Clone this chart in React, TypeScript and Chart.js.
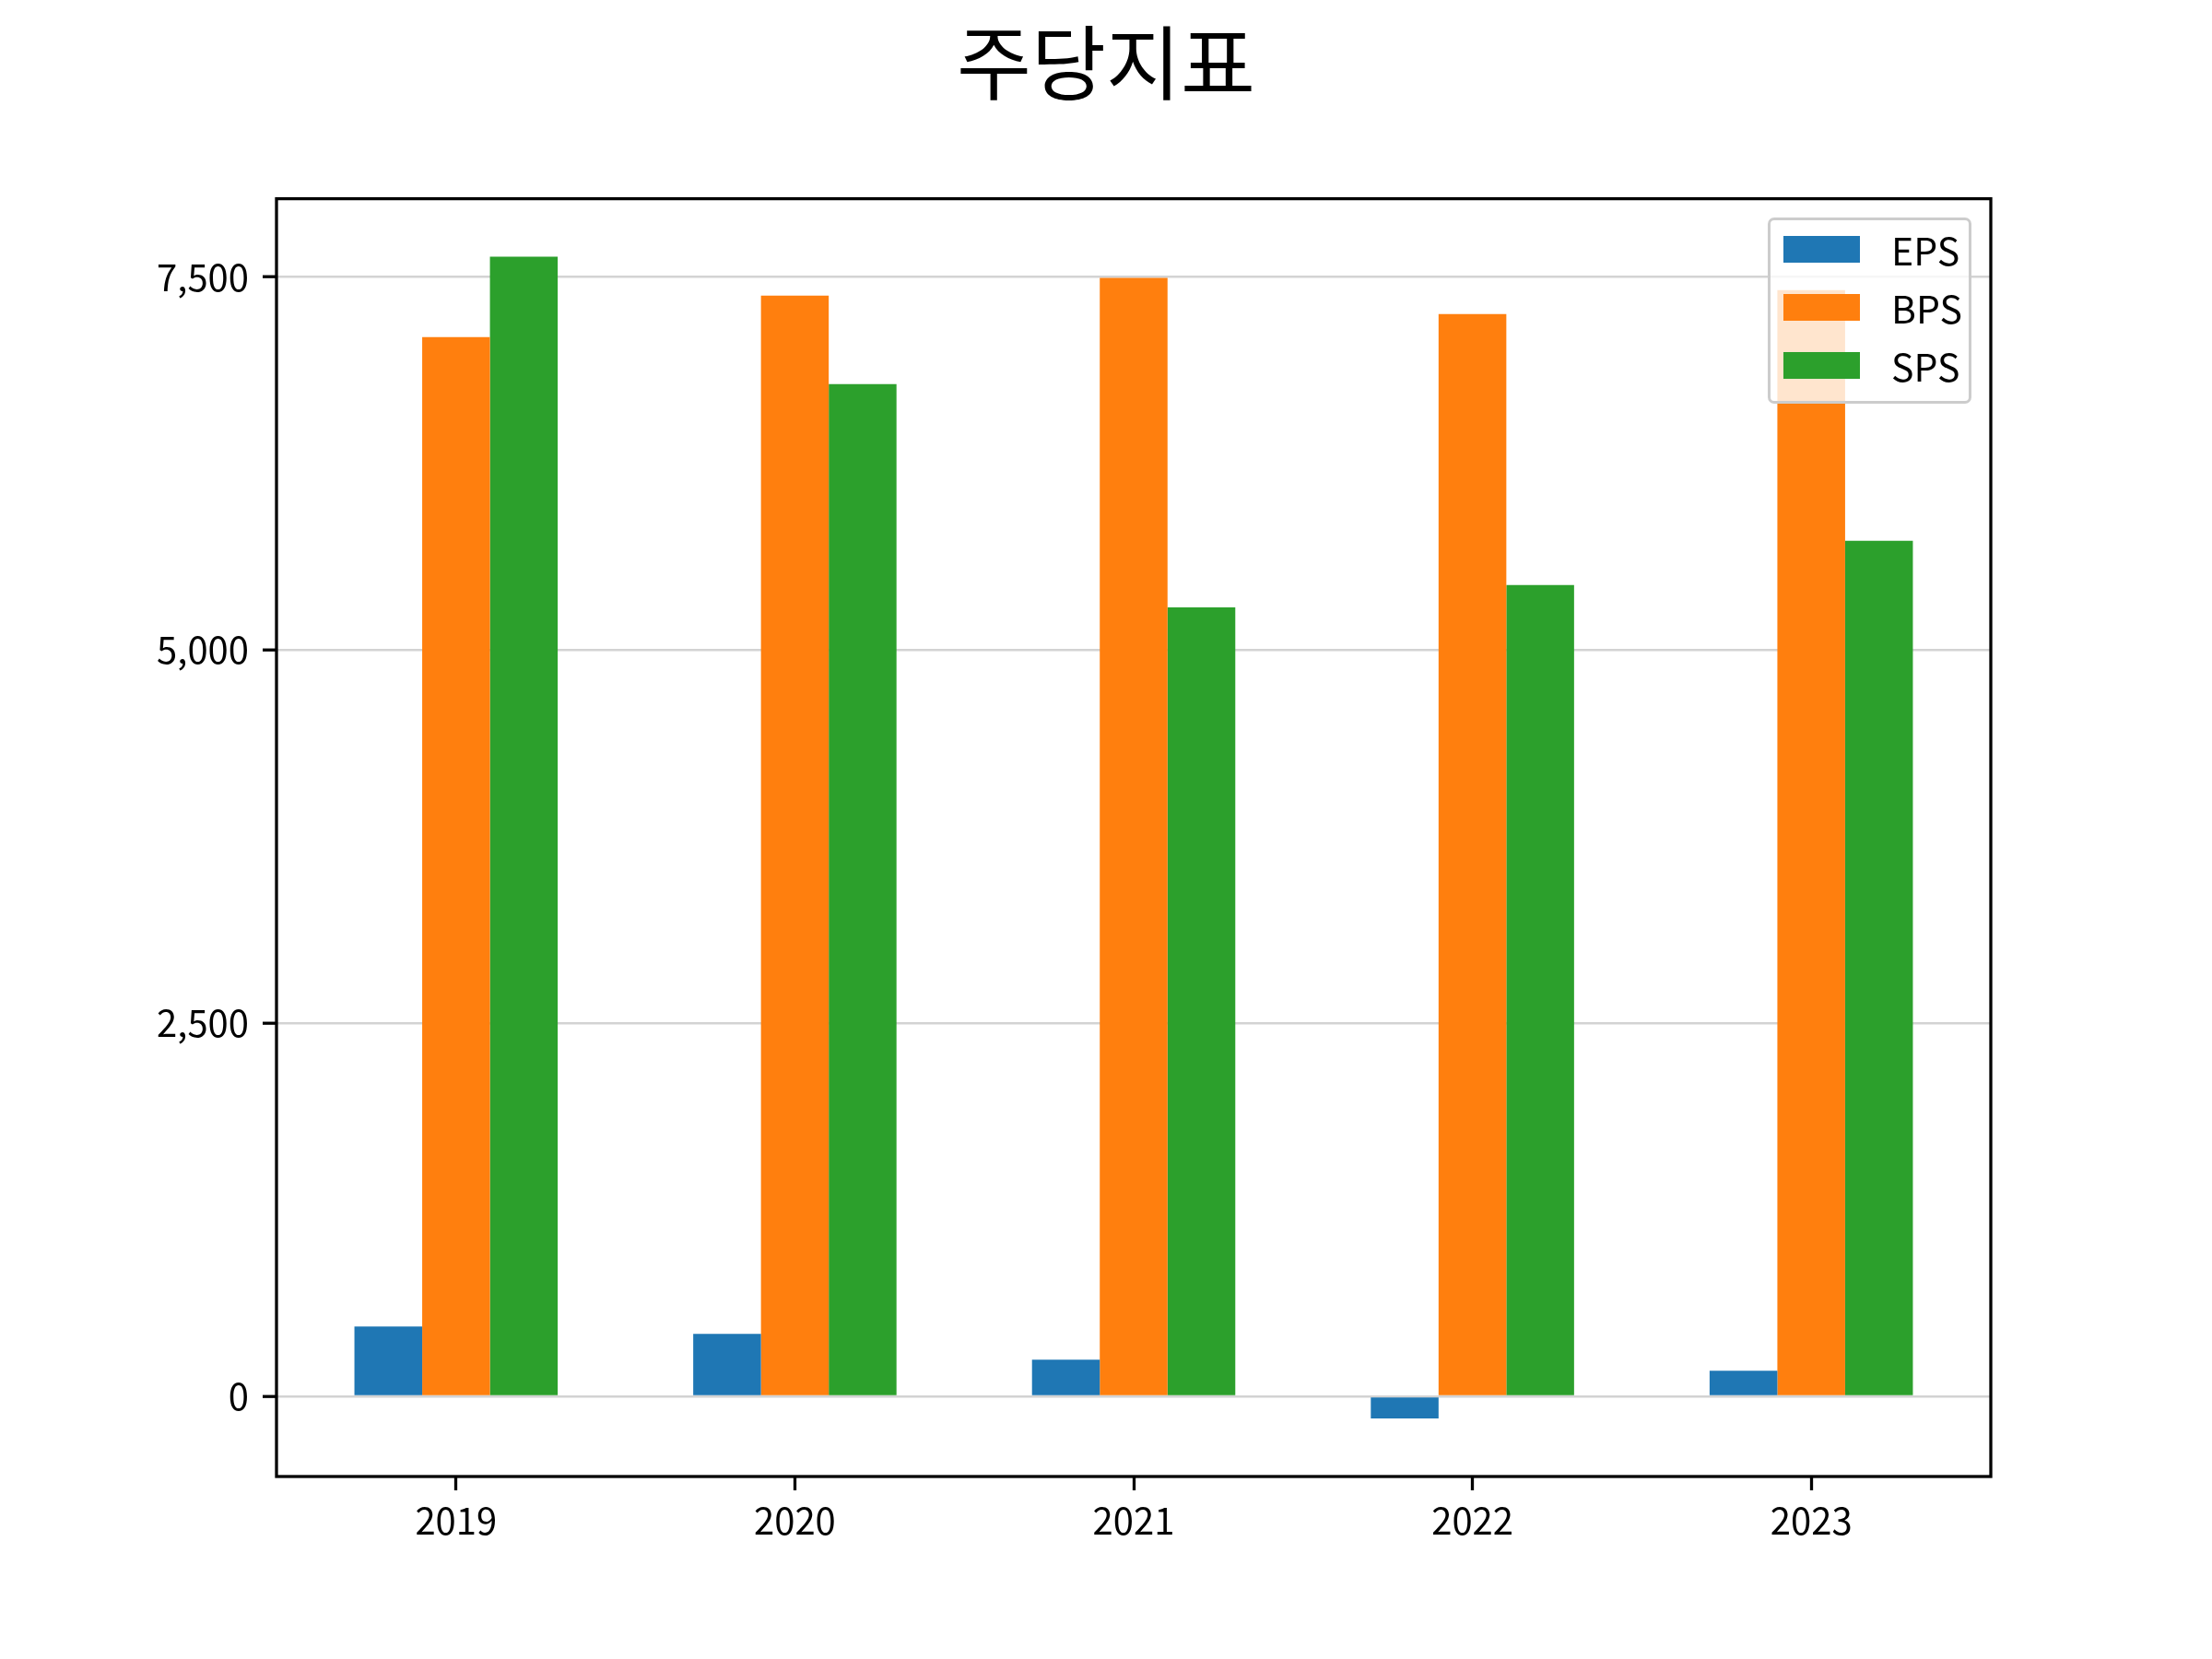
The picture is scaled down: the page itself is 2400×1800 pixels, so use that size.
import { useEffect, useRef } from 'react';
import { Chart, registerables } from 'chart.js';

Chart.register(...registerables);

const years = ['2019', '2020', '2021', '2022', '2023'];
const eps = [468, 418, 245, -148, 171];
const bps = [7096, 7374, 7492, 7251, 7411];
const sps = [7634, 6781, 5286, 5435, 5731];
const seriesNames = ['EPS', 'BPS', 'SPS'];
const seriesColors = ['#1f77b4', '#ff7f0e', '#2ca02c'];
const yTicks = [0, 2500, 5000, 7500];

const FONT = '"Noto Sans CJK KR", "Noto Sans", sans-serif';

// axis limits like matplotlib's 5% auto margins
const allValues = [...eps, ...bps, ...sps];
const lo = Math.min(...allValues);
const hi = Math.max(...allValues);
const ySpan = hi - lo;
const yMin = lo - 0.05 * ySpan;
const yMax = hi + 0.05 * ySpan;
const barW = 0.2;
const xLo = -1.5 * barW;
const xHi = years.length - 1 + 1.5 * barW;
const xMin = xLo - 0.05 * (xHi - xLo);
const xMax = xHi + 0.05 * (xHi - xLo);

const framePlugin = {
	id: 'frame',
	afterDraw(chart: Chart) {
		const { ctx, chartArea: a } = chart;
		ctx.save();
		ctx.strokeStyle = '#000';
		ctx.lineWidth = 3.3;
		ctx.strokeRect(a.left, a.top, a.right - a.left, a.bottom - a.top);
		ctx.restore();
	},
};

function Legend() {
	const rows = [eps, bps, sps].map((_, i) => (
		<div
			key={seriesNames[i]}
			style={{ position: 'absolute', left: 14, top: 17 + i * 63, height: 29, display: 'flex', alignItems: 'center' }}
		>
			<div style={{ width: 83, height: 29, background: seriesColors[i] }} />
			<span style={{ marginLeft: 34, fontSize: 41, lineHeight: '29px', color: '#000' }}>{seriesNames[i]}</span>
		</div>
	));
	return (
		<div
			style={{
				position: 'absolute',
				left: 1918,
				top: 236,
				width: 221,
				height: 202,
				boxSizing: 'border-box',
				border: '3.3px solid #cccccc',
				borderRadius: 7,
				background: 'rgba(255,255,255,0.8)',
				fontFamily: FONT,
			}}
		>
			{rows}
		</div>
	);
}

function App() {
	const chartRef = useRef<HTMLCanvasElement | null>(null);

	useEffect(() => {
		document.body.style.margin = '0';
		if (!chartRef.current) return;

		const existing = Chart.getChart(chartRef.current);
		if (existing) existing.destroy();

		const chart = new Chart(chartRef.current, {
			type: 'bar',
			data: {
				datasets: [eps, bps, sps].map((values, i) => ({
					label: seriesNames[i],
					data: values.map((v, j) => ({ x: j, y: v })),
					backgroundColor: seriesColors[i],
					borderWidth: 0,
					categoryPercentage: 3 * barW,
					barPercentage: 1,
				})),
			},
			options: {
				responsive: false,
				animation: false,
				devicePixelRatio: 1,
				layout: { padding: 0 },
				plugins: {
					legend: { display: false },
					tooltip: { enabled: false },
					title: {
						display: true,
						text: '주당지표',
						color: '#000',
						font: { family: FONT, size: 88, weight: 'normal', lineHeight: 1.2 },
						padding: { top: 15, bottom: 95 },
					},
				},
				scales: {
					x: {
						type: 'linear',
						min: xMin,
						max: xMax,
						offset: false,
						afterFit: (scale: any) => {
							scale.height = 198;
						},
						afterBuildTicks: (scale: any) => {
							scale.ticks = years.map((_, i) => ({ value: i }));
						},
						grid: {
							offset: false,
							drawOnChartArea: false,
							drawTicks: true,
							tickLength: 15,
							tickColor: '#000',
							tickWidth: 3.3,
						},
						border: { display: false },
						ticks: {
							color: '#000',
							padding: 9,
							font: { family: FONT, size: 40 },
							maxRotation: 0,
							callback: (v: any) => years[Number(v)] ?? '',
						},
					},
					y: {
						min: yMin,
						max: yMax,
						z: 1,
						afterFit: (scale: any) => {
							scale.width = 300;
						},
						afterBuildTicks: (scale: any) => {
							scale.ticks = yTicks.map((v) => ({ value: v }));
						},
						grid: {
							color: '#d3d3d3',
							lineWidth: 2.4,
							drawTicks: true,
							tickLength: 15,
							tickColor: '#000',
							tickWidth: 3.3,
						},
						border: { display: false },
						ticks: {
							color: '#000',
							padding: 15,
							font: { family: FONT, size: 40 },
							callback: (v: any) => Number(v).toLocaleString('en-US'),
						},
					},
					// empty right-hand strip so the plot ends where the figure margin starts
					yRight: {
						position: 'right',
						display: true,
						afterFit: (scale: any) => {
							scale.width = 240;
						},
						grid: { display: false, drawTicks: false },
						border: { display: false },
						ticks: { display: false },
					},
				},
			},
			plugins: [framePlugin],
		});

		return () => {
			chart.destroy();
		};
	}, []);

	return (
		<div style={{ position: 'relative', width: 2400, height: 1800, background: '#fff' }}>
			<canvas ref={chartRef} width={2400} height={1800} style={{ position: 'absolute', left: 0, top: 0 }}></canvas>
			<Legend />
		</div>
	);
}

export default App;
